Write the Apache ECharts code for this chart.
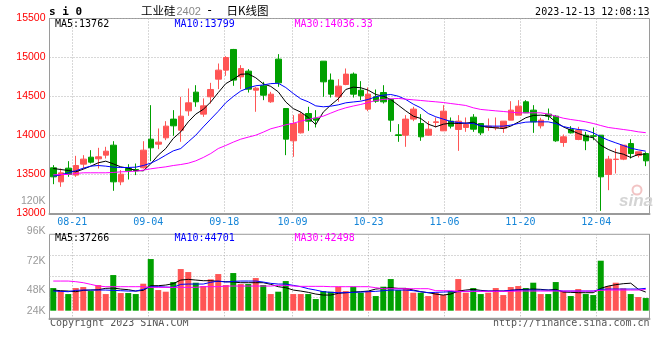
<!DOCTYPE html>
<html><head><meta charset="utf-8">
<script src="https://cdn.jsdelivr.net/npm/echarts@6/dist/echarts.min.js"></script>
<style>html,body{margin:0;padding:0;background:#fff}#c{width:660px;height:360px}</style>
</head><body><div id="c"></div>
<script>
// ---- data ----
const dates = ['08-16','08-17','08-18','08-21','08-22','08-23','08-24','08-25','08-28','08-29','08-30','08-31',
'09-01','09-04','09-05','09-06','09-07','09-08','09-11','09-12','09-13','09-14','09-15','09-18','09-19','09-20','09-21','09-22','09-25','09-26','09-27','09-28',
'10-09','10-10','10-11','10-12','10-13','10-16','10-17','10-18','10-19','10-20','10-23','10-24','10-25','10-26','10-27','10-30','10-31',
'11-01','11-02','11-03','11-06','11-07','11-08','11-09','11-10','11-13','11-14','11-15','11-16','11-17','11-20','11-21','11-22','11-23','11-24','11-27','11-28','11-29','11-30',
'12-01','12-04','12-05','12-06','12-07','12-08','12-11','12-12','12-13'];
const labelDates = ['08-21','09-04','09-18','10-09','10-23','11-06','11-20','12-04'];

const opens  = [13586,13406,13581,13492,13633,13722,13701,13748,13876,13406,13577,13564,13586,13953,13889,13970,14210,14068,14316,14556,
14274,14496,14722,14838,15103,14752,14825,14581,14637,14432,14979,14346,13932,14034,14282,14222,14953,14710,14496,14654,
14787,14581,14338,14496,14551,14462,14009,14004,14210,14154,14004,14167,14060,14184,14077,14103,14235,14154,14103,14098,
14090,14197,14261,14432,14325,14124,14274,14248,13910,14077,13949,14004,13996,14004,13500,13692,13697,13897,13744,13769];
const closes = [13470,13521,13500,13615,13697,13658,13727,13799,13406,13504,13547,13547,13812,13842,13915,14120,14124,14248,14419,14432,
14380,14590,14838,15000,14710,14859,14594,14607,14517,14530,14675,13953,14154,14274,14184,14197,14688,14530,14633,14787,
14530,14509,14530,14440,14432,14197,14000,14210,14338,13983,14081,14175,14312,14120,14184,14141,14081,14034,14120,14107,
14184,14325,14376,14291,14175,14197,14248,13932,13983,14034,14068,13932,13990,13470,13697,13697,13876,13769,13791,13675];
const lows   = [13376,13342,13470,13470,13577,13641,13577,13705,13291,13363,13436,13492,13577,13671,13825,13940,13996,13919,14252,14368,
14239,14410,14594,14765,14637,14594,14551,14304,14453,14419,14624,13748,13727,14026,14060,14103,14496,14487,14432,14645,
14487,14453,14312,14419,14410,14047,13919,13855,14184,13932,13996,14103,14060,14090,13803,14047,14047,14004,14060,14068,
14034,14197,14261,14291,14034,14090,14197,13919,13855,14026,13940,13812,13940,13034,13299,13513,13684,13705,13718,13607];
const highs  = [13620,13577,13671,13739,13748,13812,13842,13855,13927,13556,13632,13641,13927,14389,14090,14184,14325,14496,14603,14645,
14475,14675,14923,15017,15110,14902,14851,14624,14688,14560,15043,14350,14261,14304,14368,14325,14953,14795,14722,14859,
14808,14697,14616,14590,14645,14462,14146,14261,14368,14274,14184,14231,14389,14231,14261,14231,14274,14154,14218,14231,
14184,14440,14453,14453,14389,14227,14346,14261,14013,14120,14111,14047,14103,14004,13739,13833,13876,13953,13791,13786];

const ma5  = [13577,13564,13551,13534,13568,13607,13650,13671,13637,13598,13581,13551,13547,13637,13748,13833,13962,14047,14175,14274,
14335,14430,14550,14665,14720,14785,14790,14740,14662,14630,14560,14430,14345,14300,14230,14140,14300,14390,14470,14590,
14620,14612,14581,14526,14504,14462,14389,14316,14248,14218,14145,14111,14145,14158,14154,14158,14171,14120,14107,14098,
14090,14120,14171,14227,14257,14261,14252,14175,14111,14068,14026,13992,13970,13876,13821,13782,13761,13718,13757,13762];
const ma10 = [13479,13496,13522,13547,13581,13607,13615,13607,13594,13590,13590,13594,13615,13645,13692,13748,13803,13833,13919,14004,
14110,14210,14310,14420,14500,14570,14610,14638,14648,14665,14670,14615,14539,14470,14432,14380,14368,14376,14393,14419,
14430,14440,14462,14496,14517,14526,14504,14462,14402,14355,14282,14240,14210,14180,14167,14158,14154,14124,14120,14120,
14120,14133,14154,14171,14175,14175,14175,14154,14115,14094,14077,14068,14034,13983,13940,13906,13872,13838,13816,13799];
const ma30 = [13496,13500,13500,13513,13522,13522,13522,13522,13526,13534,13538,13543,13556,13573,13586,13598,13615,13628,13645,13675,
13718,13769,13833,13872,13915,13953,13979,14004,14043,14086,14111,14137,14158,14184,14205,14227,14248,14287,14325,14355,
14378,14398,14423,14449,14462,14470,14475,14466,14457,14449,14440,14432,14423,14410,14398,14385,14355,14334,14325,14316,
14308,14299,14291,14291,14291,14291,14274,14248,14222,14205,14192,14175,14154,14128,14103,14090,14077,14064,14047,14036.33];

const volumes = [45300,39300,33300,45300,47300,39300,51300,33300,71300,35300,35300,33300,54000,103300,41300,38000,57300,83300,77300,56000,
49300,62700,73300,51300,75300,53300,53300,65300,51300,33300,38000,59300,33300,33300,33300,23300,39300,38000,48000,39300,
48000,36000,39300,29300,48000,63300,41300,44700,36000,36000,29300,36000,31300,39300,63300,36000,45300,33300,36000,45300,
31300,47300,49300,45300,56000,33300,33300,57300,39300,29300,43300,33300,31300,100000,49300,56000,44700,33300,27300,25300];
const vma5  = [41300,40000,39300,38000,40700,41300,42000,44700,45300,43300,42000,39300,40700,50000,50000,51300,54000,61300,62700,61300,
60000,60000,58700,58000,57300,56000,56000,56000,56000,52700,48000,46000,41300,39300,36700,33300,31300,31300,34700,36000,
37300,38000,39300,43300,44700,46000,44700,44700,41300,38000,36000,33300,31300,33300,39300,41300,42700,40700,39300,39300,
39300,40700,42000,42700,43300,42700,41300,42700,37300,36700,36000,36000,36000,44700,49300,52000,54000,55000,43000,37266];
const vma10 = [39300,38700,38000,40700,41300,41300,41300,41300,40700,40000,39300,39300,42700,48000,48000,47300,46700,52700,53300,53300,
53300,56700,59300,57300,58700,59300,59300,59300,57300,54700,53300,53300,50700,48000,44000,41300,38000,36700,36000,36000,
36700,37300,38000,38700,40000,41300,41300,41300,40000,38000,36000,36700,37300,38000,38000,38700,39300,39300,39300,39300,
39300,40700,41300,41300,41300,41300,41300,40700,39300,39300,39300,39300,39300,42700,43300,43300,43300,43300,43300,44701];
const vma30 = [59300,59300,59300,58000,56000,52700,49300,48000,48000,48000,48000,48000,48000,46700,46700,46700,46700,46700,46700,46700,
48000,48000,48000,49300,49300,49300,49300,49300,49300,49300,50700,50700,49300,48700,48700,48700,48700,48000,48000,48000,
48000,48000,48000,46000,44000,44000,44000,44000,44000,44000,44000,40000,40000,40000,38700,38700,38700,38700,38700,38700,
38700,38700,39300,39300,39300,39300,39300,39300,39300,39300,39300,39300,39300,40700,41300,41300,41300,41300,41300,42498];

const priceAxis = {min: 13000, max: 15500, step: 500};
const volLabelAxis = {min: 24000, max: 120000, step: 24000};

// ---- styles ----
const UP = '#ff5555', DOWN = '#00a000';
const GRIDC = '#b0b0b0', BORDER = '#9a9a9a';
const MONO = 'DejaVu Sans Mono';
const last = a => a[a.length - 1];

const labelIdx = new Set(labelDates.map(d => dates.indexOf(d)));
const showIdx = (i) => labelIdx.has(i);

const chart = echarts.init(document.getElementById('c'), null, {renderer: 'canvas'});

const G0 = {left: 49.5, top: 18.5, width: 600, height: 195};
const G1 = {left: 49.5, top: 234.3, width: 600, height: 84};

const option = {
  animation: false,
  backgroundColor: '#fff',
  grid: [
    Object.assign({show: true, borderColor: BORDER, borderWidth: 1, backgroundColor: 'transparent', outerBoundsMode: 'none', containLabel: false}, G0),
    Object.assign({show: true, borderColor: BORDER, borderWidth: 1, backgroundColor: 'transparent', outerBoundsMode: 'none', containLabel: false}, G1),
    {left: 49.5, top: 201.5, width: 600, height: 118.4, show: false, outerBoundsMode: 'none', containLabel: false}
  ],
  xAxis: [
    {type: 'category', gridIndex: 0, data: dates, boundaryGap: true, show: false},
    {type: 'category', gridIndex: 0, data: dates, boundaryGap: false, position: 'bottom',
      axisLine: {show: true, lineStyle: {color: BORDER, width: 2}},
      axisTick: {show: false},
      axisLabel: {interval: showIdx, color: '#1585d8', fontFamily: MONO, fontSize: 10, margin: 4, hideOverlap: false},
      splitLine: {show: true, interval: showIdx, lineStyle: {color: GRIDC, type: [1, 2], width: 1}}},
    {type: 'category', gridIndex: 1, data: dates, boundaryGap: true, show: false},
    {type: 'category', gridIndex: 1, data: dates, boundaryGap: false, position: 'bottom',
      axisLine: {show: true, lineStyle: {color: BORDER, width: 2}},
      axisTick: {show: false}, axisLabel: {show: false},
      splitLine: {show: true, interval: showIdx, lineStyle: {color: GRIDC, type: [1, 2], width: 1}}},
    {type: 'category', gridIndex: 2, data: dates, show: false}
  ],
  yAxis: [
    {type: 'value', gridIndex: 0, min: priceAxis.min, max: priceAxis.max, interval: priceAxis.step,
      axisLine: {show: true, lineStyle: {color: BORDER, width: 1}}, axisTick: {show: false},
      axisLabel: {color: '#ff0000', fontFamily: 'Liberation Sans', fontSize: 10.5, margin: 4, padding: [0, 0, 3, 0],
        formatter: v => String(v)},
      splitLine: {show: true, lineStyle: {color: GRIDC, type: [1, 2], width: 1}}},
    {type: 'value', gridIndex: 1, min: -15200, max: 152800, show: false, splitLine: {show: false}},
    {type: 'value', gridIndex: 1, min: 0, max: 4, interval: 1,
      axisLine: {show: true, lineStyle: {color: BORDER, width: 1}}, axisTick: {show: false}, axisLabel: {show: false},
      splitLine: {show: true, lineStyle: {color: GRIDC, type: [1, 2], width: 1}}},
    {type: 'value', gridIndex: 2, min: volLabelAxis.min, max: volLabelAxis.max, interval: volLabelAxis.step,
      axisLine: {show: false}, axisTick: {show: false}, splitLine: {show: false},
      axisLabel: {color: '#999999', fontFamily: 'Liberation Sans', fontSize: 10.5, margin: 4,
        formatter: v => v === volLabelAxis.min ? '{s|' + (v / 1000) + 'K}' : (v / 1000) + 'K',
        rich: {s: {color: '#999999', fontFamily: 'Liberation Sans', fontSize: 10.5, padding: [0, 0, 17, 0]}}}}
  ],
  series: [
    {type: 'candlestick', xAxisIndex: 0, yAxisIndex: 0, barWidth: 6, z: 2,
      data: opens.map((o, i) => [o, closes[i], lows[i], highs[i]]),
      itemStyle: {color: UP, color0: DOWN, borderColor: UP, borderColor0: DOWN, borderWidth: 1}},
    {type: 'line', xAxisIndex: 0, yAxisIndex: 0, data: ma5, symbol: 'none', z: 3, silent: true, lineStyle: {color: '#000', width: 1}},
    {type: 'line', xAxisIndex: 0, yAxisIndex: 0, data: ma10, symbol: 'none', z: 3, silent: true, lineStyle: {color: '#0000ff', width: 1}},
    {type: 'line', xAxisIndex: 0, yAxisIndex: 0, data: ma30, symbol: 'none', z: 3, silent: true, lineStyle: {color: '#ff00ff', width: 1}},
    {type: 'bar', xAxisIndex: 2, yAxisIndex: 1, barWidth: 6, z: 2,
      data: volumes.map((v, i) => ({value: v, itemStyle: {color: closes[i] >= opens[i] ? UP : DOWN}}))},
    {type: 'line', xAxisIndex: 2, yAxisIndex: 1, data: vma5, symbol: 'none', z: 3, silent: true, lineStyle: {color: '#000', width: 1}},
    {type: 'line', xAxisIndex: 2, yAxisIndex: 1, data: vma10, symbol: 'none', z: 3, silent: true, lineStyle: {color: '#0000ff', width: 1}},
    {type: 'line', xAxisIndex: 2, yAxisIndex: 1, data: vma30, symbol: 'none', z: 3, silent: true, lineStyle: {color: '#ff00ff', width: 1}}
  ],
  graphic: [
    {type: 'text', x: 49, y: 12, style: {text: 's i 0', fill: '#000', font: 'bold 11px "DejaVu Sans Mono"', align: 'left', verticalAlign: 'middle'}},
    {type: 'text', x: 141, y: 11, style: {text: '工业硅', fill: '#000', font: '11.5px "Noto Sans CJK SC"', align: 'left', verticalAlign: 'middle'}},
    {type: 'text', x: 176.5, y: 11.5, style: {text: '2402', fill: '#888', font: '11px "Liberation Sans"', align: 'left', verticalAlign: 'middle'}},
    {type: 'text', x: 206, y: 11, style: {text: '-', fill: '#000', font: '12px "DejaVu Sans Mono"', align: 'left', verticalAlign: 'middle'}},
    {type: 'text', x: 226.5, y: 11, style: {text: '日K线图', fill: '#000', font: '11.5px "Noto Sans CJK SC"', align: 'left', verticalAlign: 'middle'}},
    {type: 'text', x: 649.5, y: 12, style: {text: '2023-12-13 12:08:13', fill: '#000', font: '10px "DejaVu Sans Mono"', align: 'right', verticalAlign: 'middle'}},
    {type: 'text', x: 55, y: 24, z: 10, style: {text: 'MA5:' + last(ma5), fill: '#000', font: '10px "DejaVu Sans Mono"', verticalAlign: 'middle'}},
    {type: 'text', x: 174.5, y: 24, z: 10, style: {text: 'MA10:' + last(ma10), fill: '#0000ff', font: '10px "DejaVu Sans Mono"', verticalAlign: 'middle'}},
    {type: 'text', x: 294.5, y: 24, z: 10, style: {text: 'MA30:' + last(ma30), fill: '#ff00ff', font: '10px "DejaVu Sans Mono"', verticalAlign: 'middle'}},
    {type: 'text', x: 55, y: 238, z: 10, style: {text: 'MA5:' + last(vma5), fill: '#000', font: '10px "DejaVu Sans Mono"', verticalAlign: 'middle'}},
    {type: 'text', x: 174.5, y: 238, z: 10, style: {text: 'MA10:' + last(vma10), fill: '#0000ff', font: '10px "DejaVu Sans Mono"', verticalAlign: 'middle'}},
    {type: 'text', x: 294.5, y: 238, z: 10, style: {text: 'MA30:' + last(vma30), fill: '#ff00ff', font: '10px "DejaVu Sans Mono"', verticalAlign: 'middle'}},
    {type: 'text', x: 50, y: 323.5, style: {text: 'Copyright 2023 SINA.COM', fill: '#555', font: '10px "DejaVu Sans Mono"', verticalAlign: 'middle'}},
    {type: 'text', x: 649.5, y: 323.5, style: {text: 'http://finance.sina.com.cn', fill: '#555', font: '10px "DejaVu Sans Mono"', align: 'right', verticalAlign: 'middle'}},
    {type: 'circle', shape: {cx: 637, cy: 190, r: 4.5}, z: 1, style: {fill: 'none', stroke: '#f2c4c4', lineWidth: 2}},
    {type: 'text', x: 619, y: 201, z: 1, style: {text: 'sina', fill: '#d4d4d4', font: 'italic bold 17px "Liberation Sans"', verticalAlign: 'middle'}}
  ]
};
chart.setOption(option);
</script>
</body></html>
